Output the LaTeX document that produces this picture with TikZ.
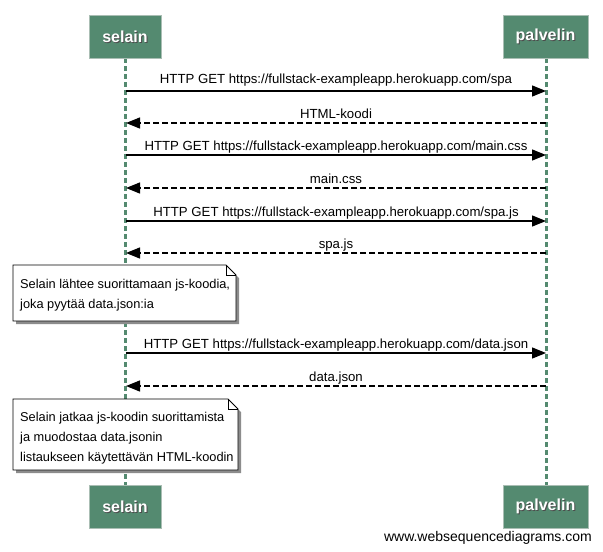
\documentclass[tikz,border=0pt]{standalone}
\usepackage{fontspec}
\setmainfont{Liberation Sans}
\usetikzlibrary{arrows.meta}
\definecolor{partfill}{RGB}{84,138,112}
\definecolor{partdraw}{RGB}{170,190,180}
\definecolor{lifecol}{RGB}{84,138,112}
\tikzset{
  x=1pt, y=1pt,
  partbox/.style={draw=partdraw, fill=partfill, line width=1pt, minimum width=#1, minimum height=43pt, inner sep=0pt},
  lifeline/.style={draw=lifecol, line width=3pt, dash pattern=on 5pt off 3pt},
  msg/.style={line width=1.3pt, -{Triangle[length=14pt,width=11pt]}},
  reply/.style={msg, dash pattern=on 6pt off 3pt},
  lbl/.style={font=\fontsize{13.2}{15}\selectfont, inner sep=0pt, anchor=base},
  wmtext/.style={font=\fontsize{14}{16}\selectfont, inner sep=0pt, anchor=base east},
  notetext/.style={font=\fontsize{12.8}{20}\selectfont, align=left, anchor=north west, inner sep=0pt},
  parttext/.style={font=\fontsize{16}{18}\bfseries\selectfont, text=white},
  partshadow/.style={font=\fontsize{16}{18}\bfseries\selectfont, text=black!70},
}
\newcommand{\notebox}[4]{% x1,y1,x2,y2 (y downward positive)
  \fill[black!45] (#1+3,-#2-3) -- (#3-10+3,-#2-3) -- (#3+3,-#2-10-3) -- (#3+3,-#4-3) -- (#1+3,-#4-3) -- cycle;
  \draw[fill=white, line width=0.8pt] (#1,-#2) -- (#3-10,-#2) -- (#3,-#2-10) -- (#3,-#4) -- (#1,-#4) -- cycle;
  \draw[line width=0.8pt] (#3-10,-#2) -- (#3-10,-#2-10) -- (#3,-#2-10);
}
\begin{document}
\begin{tikzpicture}
\useasboundingbox (0,0) rectangle (603,-552);
\fill[white] (0,0) rectangle (603,-552);
% lifelines
\coordinate (sTop) at (125.5,-58);
\coordinate (sBot) at (125.5,-485);
\coordinate (pTop) at (546.5,-58);
\coordinate (pBot) at (546.5,-485);
\draw[lifeline] (sTop) -- (sBot);
\draw[lifeline] (pTop) -- (pBot);
% participants
\node[partbox=72pt] (selainT) at (125,-36.5) {};
\node[partshadow] at ([shift={(1,-1)}]selainT.center) {selain};
\node[parttext] at (selainT.center) {selain};
\node[partbox=85pt] (palvelinT) at (545.5,-36.5) {};
\node[partshadow] at ([shift={(1,-1)}]palvelinT.center) {palvelin};
\node[parttext] at (palvelinT.center) {palvelin};
\node[partbox=72pt] (selainB) at (125,-506.5) {};
\node[partshadow] at ([shift={(1,-1)}]selainB.center) {selain};
\node[parttext] at (selainB.center) {selain};
\node[partbox=85pt] (palvelinB) at (545.5,-506.5) {};
\node[partshadow] at ([shift={(1,-1)}]palvelinB.center) {palvelin};
\node[parttext] at (palvelinB.center) {palvelin};
% messages
\foreach \n/\y in {1/91,2/123,3/155,4/188,5/221,6/253,7/353,8/386} {
  \coordinate (s\n) at (126,-\y);
  \coordinate (p\n) at (546,-\y);
}
\draw[msg] (s1) -- (p1);
\node[lbl] (l1) at (336,-83) {HTTP GET https://fullstack-exampleapp.herokuapp.com/spa};
\draw[reply] (p2) -- (s2);
\node[lbl] (l2) at (336,-118) {HTML-koodi};
\draw[msg] (s3) -- (p3);
\node[lbl] (l3) at (336,-150) {HTTP GET https://fullstack-exampleapp.herokuapp.com/main.css};
\draw[reply] (p4) -- (s4);
\node[lbl] (l4) at (336,-183) {main.css};
\draw[msg] (s5) -- (p5);
\node[lbl] (l5) at (336,-216) {HTTP GET https://fullstack-exampleapp.herokuapp.com/spa.js};
\draw[reply] (p6) -- (s6);
\node[lbl] (l6) at (336,-248) {spa.js};
\draw[msg] (s7) -- (p7);
\node[lbl] (l7) at (336,-348) {HTTP GET https://fullstack-exampleapp.herokuapp.com/data.json};
\draw[reply] (p8) -- (s8);
\node[lbl] (l8) at (336,-381) {data.json};
% notes
\notebox{13}{265}{236}{321}
\node[notetext] (n1) at (20,-279) {Selain lähtee suorittamaan js-koodia,\\joka pyytää data.json:ia};
\notebox{13}{399}{238}{470}
\node[notetext] (n2) at (20,-412) {Selain jatkaa js-koodin suorittamista\\ja muodostaa data.jsonin\\listaukseen käytettävän HTML-koodin};
% watermark
\node[wmtext] (wm) at (592,-541) {www.websequencediagrams.com};
\end{tikzpicture}
\end{document}
